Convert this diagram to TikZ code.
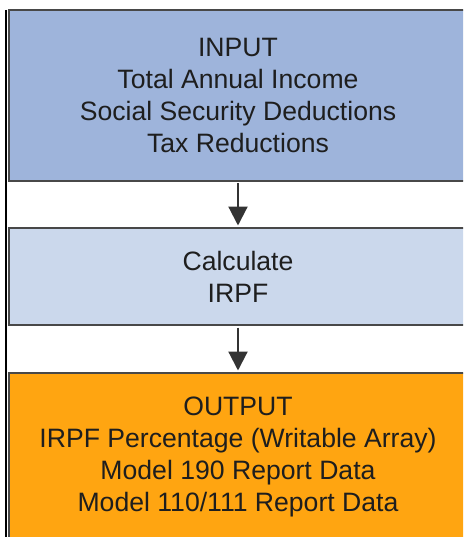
\documentclass[tikz,border=0pt]{standalone}
\usepackage{fontspec}
\setmainfont{Liberation Sans}
\usetikzlibrary{arrows.meta}

\definecolor{inputblue}{RGB}{158,180,219}
\definecolor{calcblue}{RGB}{203,216,236}
\definecolor{outputorange}{RGB}{255,165,17}
\definecolor{borderline}{RGB}{72,72,72}
\definecolor{textgray}{RGB}{30,30,30}

\begin{document}
\begin{tikzpicture}[x=1pt, y=-1pt]
      \tikzstyle{every node}=[draw=borderline, line width=2.5pt, align=center,
        minimum width=458pt, text=textgray,
        font=\fontsize{26.6pt}{32pt}\selectfont]
      \tikzstyle{flow}=[line width=2.2pt, draw=black!80,
        -{Triangle[length=19pt, width=19pt]}, shorten <=1.25pt, shorten >=1.25pt]

      \useasboundingbox (0,0) rectangle (463,537);
      \clip (0,0) rectangle (463,537);

      \path (238,95.5) node[fill=inputblue, minimum height=171pt] (input)
        {INPUT\\Total Annual Income\\Social Security Deductions\\Tax Reductions};
      \path (238,276.5) node[fill=calcblue, minimum height=97pt] (calc)
        {Calculate\\IRPF};
      \path (238,456.5) node[fill=outputorange, minimum height=167pt] (output)
        {OUTPUT\\IRPF Percentage (Writable Array)\\Model 190 Report Data\\Model 110/111 Report Data};

      \draw[flow] (input) -- (calc);
      \draw[flow] (calc) -- (output);

      % frame edge on the left
      \draw[line width=1.5pt, black] (6,10) -- (6,537);
    \end{tikzpicture}
\end{document}
